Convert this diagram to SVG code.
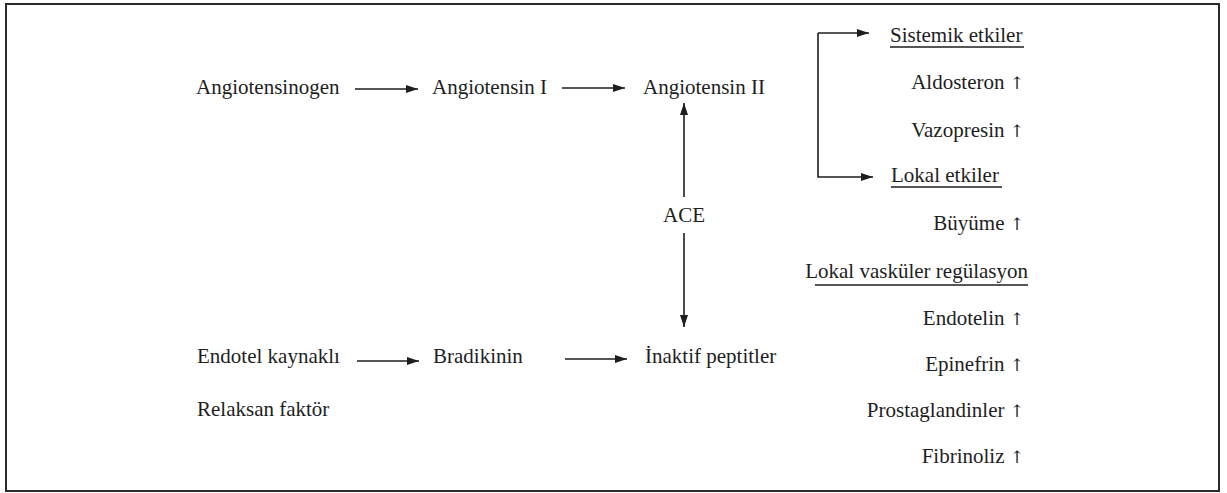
<svg xmlns="http://www.w3.org/2000/svg" width="1227" height="493" viewBox="0 0 1227 493">
<defs>
<style>
text{font-family:"Liberation Serif","Times New Roman",serif;font-size:21px;fill:#1e1e1e}
.r{text-anchor:end}
.c{text-anchor:middle}
.up{font-family:"DejaVu Serif","DejaVu Sans",serif;font-size:17px;fill:#1e1e1e}
.ln{stroke:#1e1e1e;stroke-width:1.6;fill:none}
.ul{stroke:#1e1e1e;stroke-width:1.3}
</style>
<marker id="ah" viewBox="0 0 12 8" refX="12" refY="4" markerWidth="12" markerHeight="8" markerUnits="userSpaceOnUse" orient="auto">
<path d="M0,0 L12,4 L0,8 Z" fill="#1e1e1e"/>
</marker>
</defs>
<rect x="0" y="0" width="1227" height="493" fill="#fff"/>
<rect x="6" y="4" width="1213" height="487" fill="none" stroke="#2a2a2a" stroke-width="2"/>

<g id="angiotensinogen"><text x="196" y="94">Angiotensinogen</text></g>
<g id="angiotensin1"><text x="432" y="94">Angiotensin I</text></g>
<g id="angiotensin2"><text x="643" y="94">Angiotensin II</text></g>
<g id="ace"><text x="684" y="222" class="c">ACE</text></g>
<g id="endotel"><text x="197" y="363">Endotel kaynaklı</text></g>
<g id="relaksan"><text x="197" y="416">Relaksan faktör</text></g>
<g id="bradikinin"><text x="433" y="363">Bradikinin</text></g>
<g id="inaktif"><text x="645" y="363">İnaktif peptitler</text></g>

<g id="sistemik"><text x="890" y="42">Sistemik etkiler</text><line class="ul" x1="890" y1="47" x2="1024" y2="47"/></g>
<g id="aldosteron"><text x="1024" y="89" class="r">Aldosteron <tspan class="up">↑</tspan></text></g>
<g id="vazopresin"><text x="1024" y="137" class="r">Vazopresin <tspan class="up">↑</tspan></text></g>
<g id="lokal"><text x="891" y="182">Lokal etkiler</text><line class="ul" x1="891" y1="187" x2="1002" y2="187"/></g>
<g id="buyume"><text x="1024" y="230" class="r">Büyüme <tspan class="up">↑</tspan></text></g>
<g id="vaskuler"><text x="1028" y="278" class="r">Lokal vasküler regülasyon</text><line class="ul" x1="815" y1="285" x2="1028" y2="285"/></g>
<g id="endotelin"><text x="1024" y="325" class="r">Endotelin <tspan class="up">↑</tspan></text></g>
<g id="epinefrin"><text x="1024" y="371" class="r">Epinefrin <tspan class="up">↑</tspan></text></g>
<g id="prostaglandinler"><text x="1024" y="417" class="r">Prostaglandinler <tspan class="up">↑</tspan></text></g>
<g id="fibrinoliz"><text x="1024" y="463" class="r">Fibrinoliz <tspan class="up">↑</tspan></text></g>

<g id="connectors">
<line class="ln" x1="355" y1="89" x2="418" y2="89" marker-end="url(#ah)"/>
<line class="ln" x1="562" y1="88" x2="625" y2="88" marker-end="url(#ah)"/>
<line class="ln" x1="684" y1="197" x2="684" y2="103" marker-end="url(#ah)"/>
<line class="ln" x1="684" y1="233" x2="684" y2="327" marker-end="url(#ah)"/>
<line class="ln" x1="357" y1="361" x2="419" y2="361" marker-end="url(#ah)"/>
<line class="ln" x1="565" y1="359" x2="627" y2="359" marker-end="url(#ah)"/>
<path class="ln" d="M818,33 V177 H873" marker-end="url(#ah)"/>
<line class="ln" x1="818" y1="33" x2="869" y2="33" marker-end="url(#ah)"/>
</g>
</svg>
